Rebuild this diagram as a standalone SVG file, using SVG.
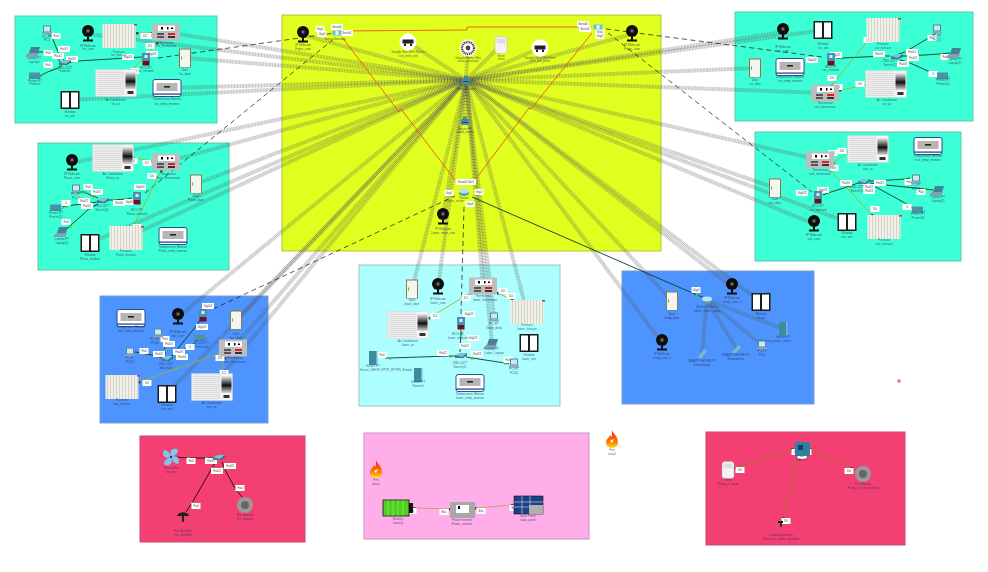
<svg xmlns="http://www.w3.org/2000/svg" width="988" height="572" viewBox="0 0 988 572">
<style>
text{font-family:"Liberation Sans",Arial,sans-serif;text-anchor:middle}
.n{font-size:3.1px;fill:#2b2b55;fill-opacity:.8}
.l{font-size:3px;fill:#444}
.z{stroke-width:1}
.t{fill:#3dffd6;stroke:#5cc9a8}
.w line{stroke:#555;stroke-opacity:.36;stroke-width:4;stroke-dasharray:1 .5}
.d{stroke:#0b3b2a;stroke-width:.9;fill:none;marker-mid:url(#g)}
.k{stroke:#111;stroke-width:.7;fill:none;stroke-dasharray:5 3.5}
.o{stroke:#f0541a;stroke-width:.9;fill:none}
.y{stroke:#9fb32a;stroke-width:.9;fill:none;marker-start:url(#m);marker-end:url(#m)}
.r{stroke:#3a0a1a;stroke-width:1;fill:none;marker-mid:url(#g)}
.b{stroke:#a8701a;stroke-width:1;fill:none;marker-start:url(#m);marker-end:url(#m)}
.a{stroke:#c8a070;stroke-width:1;fill:none;marker-start:url(#m);marker-end:url(#m)}
.sp{fill:#fff}
</style>
<defs>
<marker id="g" markerUnits="userSpaceOnUse" markerWidth="3" markerHeight="3" refX="1.5" refY="1.5"><rect width="3" height="3" fill="#3fc43f"/></marker>
<marker id="m" markerUnits="userSpaceOnUse" markerWidth="3" markerHeight="3" refX="1.5" refY="1.5"><rect width="3" height="3" fill="#444"/></marker>
<pattern id="rad" width="3" height="4" patternUnits="userSpaceOnUse"><rect width="3" height="4" fill="#f1f0e8"/><rect width="1" height="4" fill="#d4d4c8"/></pattern>
<pattern id="gr" width="4" height="2" patternUnits="userSpaceOnUse"><rect width="4" height="2" fill="#ececec"/><rect y="1" width="4" height=".6" fill="#d4d4d4"/></pattern>
<linearGradient id="dk" x1="0" y1="0" x2="0" y2="1"><stop offset="0" stop-color="#eee"/><stop offset=".55" stop-color="#111"/><stop offset="1" stop-color="#ddd"/></linearGradient>
<linearGradient id="flg" x1="0" y1="0" x2="0" y2="1"><stop offset="0" stop-color="#f11"/><stop offset=".7" stop-color="#f80"/><stop offset="1" stop-color="#fd3"/></linearGradient>
<rect id="p1" x="-4.5" y="-3" width="9" height="6" class="sp"/>
<rect id="p2" x="-6" y="-3" width="12" height="6" class="sp"/>
<g id="cam"><circle cy="-3" r="6" fill="#0c0c0c"/><circle cy="-3" r="2.4" fill="#333"/><circle cy="-3" r="1" fill="#888"/><rect x="-1" y="3" width="2" height="3" fill="#111"/><rect x="-5" y="5.5" width="10" height="2" fill="#111"/></g>
<g id="fur"><rect x="-16.5" y="-12" width="33" height="24" fill="url(#rad)"/><rect x="15" y="-12" width="3" height="1.6" fill="#c8384a"/></g>
<g id="ac"><rect x="-20.5" y="-13.5" width="41" height="27" fill="#f4f4f4" stroke="#ccc" stroke-width=".4"/><rect x="-19.5" y="-12.5" width="28" height="25" fill="url(#gr)"/><rect x="9.5" y="-11" width="10" height="17" fill="url(#dk)"/><rect x="11.5" y="8" width="6" height="3" fill="#333"/></g>
<g id="th"><rect x="-14" y="-8.5" width="28" height="17" fill="#bdbdbd"/><rect x="-8" y="-6.5" width="17" height="5.5" fill="#fff"/><rect x="-5" y="-5" width="2" height="2.5"/><rect x="1" y="-5" width="1.5" height="2.5"/><rect x="5" y="-4.5" width="2" height="1.5"/><rect x="-9" y="1" width="7" height="2" fill="#555"/><rect x="2" y="1" width="7" height="2" fill="#d22"/><rect x="-9" y="4" width="7" height="2" fill="#555"/><rect x="2" y="4" width="7" height="2" fill="#333"/></g>
<g id="door"><rect x="-6" y="-9.5" width="12" height="19" fill="#8a7458"/><rect x="-5" y="-8.5" width="10" height="17.5" fill="#f5f5ef"/><rect x="-4" y="-1.5" width="1" height="3" fill="#2cc52c"/></g>
<g id="win"><rect x="-9.5" y="-9" width="19" height="18" fill="#1c1c1c"/><rect x="-8" y="-7.5" width="7" height="15" fill="#fff"/><rect x="1" y="-7.5" width="7" height="15" fill="#fff"/></g>
<g id="temp"><rect x="-14" y="-8.5" width="28" height="17" rx="2" fill="#fff" stroke="#1d3c86" stroke-width=".9"/><rect x="-10.5" y="-5" width="21" height="8" fill="#b5b5b5"/><rect x="-3" y="-2" width="6" height="1.6" fill="#222"/><rect x="-14" y="5.5" width="28" height="1.2" fill="#1d3c86"/></g>
<g id="pc"><rect x="-4" y="-4.5" width="8" height="7" fill="#4a8ba3"/><rect x="-3" y="-3.5" width="6" height="5" fill="#cfe8f0"/><rect x="-5" y="2.5" width="10" height="2" fill="#88a9b5"/></g>
<g id="lap"><path d="M-3-5H6L4 1H-5Z" fill="#4a7f98"/><path d="M-6 1H5L3 5H-9Z" fill="#7ba3b5"/></g>
<g id="pr"><rect x="-6" y="-3.5" width="11" height="6" fill="#4f90a8"/><path d="M-6 2.5H5L7 0" stroke="#2a5a6e" fill="none" stroke-width=".5"/></g>
<g id="sw"><path d="M-5-1 0-3H7L2 1H-5Z" fill="#7fc0d0"/><path d="M-5-1V2H2V1Z" fill="#3c7f98"/><path d="M2 1V2.5L7-.5V-3Z" fill="#2f6e85"/></g>
<g id="srv"><rect x="-4" y="-7" width="7" height="14" fill="#3d8ba0"/><rect x="3" y="-7" width="1.5" height="14" fill="#72b8c8"/></g>
<g id="mcu"><rect x="-4" y="-6" width="8" height="8" fill="#4a90b0"/><rect x="-1.5" y="-4" width="3" height="3" fill="#d9eef5"/><rect x="-3.5" y="2" width="7" height="4.5" fill="#6b0f1a"/></g>
<g id="ap"><rect x="-4" y="-3" width="8" height="6" fill="#4a8fb0"/><rect x="-1.5" y="-5" width="3" height="3" fill="#4a8fb0" stroke="#1f5a75" stroke-width=".4"/><rect x="-3" y="0" width="6" height=".8" fill="#12384a"/></g>
<g id="rt"><ellipse cy="1" rx="5" ry="3" fill="#4f9db5"/><ellipse cy="-1" rx="5" ry="2.4" fill="#b8e3ec"/></g>
<g id="gw"><rect x="-4.5" y="-2.5" width="9" height="5" fill="#6ec0dc"/><rect x="-1.5" y="-2" width="3" height="4" fill="#e0f4fa"/></g>
<g id="flame"><path d="M0-10C1-6 6-4 6 2 6 6 3 8 0 8-3 8-6 6-6 2-6-1-3-2-2-5-1-3 0-3 0-5Z" fill="url(#flg)"/><path d="M-2 1 2-1 0 3Z" fill="#fff"/></g>
<g id="goog"><circle r="8.5" fill="#fff"/><rect x="-5.5" y="-2.5" width="11" height="4" fill="#222"/><rect x="-4" y="1.5" width="2" height="2.5" fill="#222"/><rect x="2" y="1.5" width="2" height="2.5" fill="#222"/></g>
<g id="qr"><circle r="8.5" fill="#fff"/><circle r="6" fill="none" stroke="#333" stroke-width="2.4" stroke-dasharray="1 .8"/><circle r="2.4" fill="#444"/></g>
<g id="bot"><rect x="-6" y="-8.5" width="12" height="17" rx="3" fill="#f3f3f3" stroke="#aaa" stroke-width=".4"/><rect x="-4.5" y="-6.5" width="9" height="5" rx="1" fill="#ddd"/></g>
</defs>

<g id="zones">
<rect class="z t" x="15" y="16" width="202" height="107"/>
<rect class="z" x="282" y="15" width="379" height="236" fill="#e0ff1f" stroke="#b5c13a"/>
<rect class="z t" x="735" y="12" width="238" height="109"/>
<rect class="z t" x="38" y="143" width="191" height="127"/>
<rect class="z t" x="755" y="132" width="206" height="129"/>
<rect class="z" x="100" y="296" width="168" height="127" fill="#4d94ff" stroke="#7a9fd0"/>
<rect class="z" x="359" y="265" width="201" height="141" fill="#adffff" stroke="#9ac5c5"/>
<rect class="z" x="622" y="271" width="192" height="133" fill="#4d94ff" stroke="#7a9fd0"/>
<rect class="z" x="140" y="436" width="165" height="106" fill="#f43f72" stroke="#c44a70"/>
<rect class="z" x="364" y="433" width="225" height="106" fill="#ffaeea" stroke="#c393b8"/>
<rect class="z" x="706" y="432" width="199" height="113" fill="#f43f72" stroke="#c44a70"/>
<circle cx="899" cy="381" r="2" fill="#e884c0"/>
</g>

<g id="connectors">
<g class="w">
<line x1="466" y1="80" x2="88" y2="34"/><line x1="466" y1="80" x2="166" y2="32"/><line x1="466" y1="80" x2="185" y2="58"/><line x1="466" y1="80" x2="167" y2="88"/><line x1="466" y1="80" x2="70" y2="100"/>
<line x1="466" y1="80" x2="783" y2="32"/><line x1="466" y1="80" x2="823" y2="30"/><line x1="466" y1="80" x2="755" y2="68"/><line x1="466" y1="80" x2="825" y2="93"/>
<line x1="466" y1="80" x2="72" y2="163"/><line x1="466" y1="80" x2="166" y2="162"/><line x1="466" y1="80" x2="196" y2="184"/><line x1="466" y1="80" x2="90" y2="243"/><line x1="466" y1="80" x2="126" y2="238"/>
<line x1="466" y1="80" x2="820" y2="160"/><line x1="466" y1="80" x2="775" y2="188"/><line x1="466" y1="80" x2="847" y2="222"/><line x1="466" y1="80" x2="814" y2="224"/>
<line x1="466" y1="80" x2="178" y2="317"/><line x1="466" y1="80" x2="236" y2="320"/><line x1="466" y1="80" x2="233" y2="348"/><line x1="466" y1="80" x2="167" y2="394"/><line x1="466" y1="80" x2="212" y2="387"/>
<line x1="466" y1="80" x2="412" y2="289"/><line x1="466" y1="80" x2="438" y2="287"/><line x1="466" y1="80" x2="483" y2="286"/><line x1="466" y1="80" x2="494" y2="317"/><line x1="466" y1="80" x2="492" y2="344"/><line x1="466" y1="80" x2="527" y2="312"/>
<line x1="466" y1="80" x2="408" y2="42"/><line x1="466" y1="80" x2="468" y2="48"/><line x1="466" y1="80" x2="501" y2="45"/><line x1="466" y1="80" x2="540" y2="48"/><line x1="466" y1="80" x2="303" y2="35"/><line x1="466" y1="80" x2="632" y2="34"/><line x1="466" y1="80" x2="443" y2="217"/><line x1="466" y1="80" x2="465" y2="122"/>
<line x1="466" y1="80" x2="672" y2="301"/><line x1="466" y1="80" x2="732" y2="287"/><line x1="466" y1="80" x2="662" y2="343"/><line x1="466" y1="80" x2="761" y2="302"/>
<line x1="707" y1="300" x2="783" y2="329"/><line x1="707" y1="300" x2="762" y2="345"/><line x1="707" y1="300" x2="702" y2="353"/><line x1="707" y1="300" x2="736" y2="348"/>
</g>
<path class="o" d="M339 31 467 30V27L592 27"/>
<path class="o" d="M342 37 399 112 401 109 455 180"/>
<path class="o" d="M592 33 531 109 529 108 475 180"/>
<path class="k" d="M158 58 335 33"/><path class="k" d="M145 193 335 38"/><path class="k" d="M606 29 822 57"/><path class="k" d="M608 33 812 192"/><path class="k" d="M213 309 455 196"/><path class="k" d="M464 207 461 314"/>
<path class="d" d="M472 197 697 295 705 298"/>
<path class="d" d="M47 33 52 37 58 52 64 60"/><path class="d" d="M38 52 44 52 58 58 60 62"/><path class="d" d="M40 76 45 73 58 68 62 65"/><path class="d" d="M70 62 78 61 142 57 146 57"/>
<path class="y" d="M137 33H152"/><path class="y" d="M157 43 132 70"/>
<path class="d" d="M936 33 932 36 905 52 899 54"/><path class="d" d="M950 53 940 54 908 56 900 56"/><path class="d" d="M938 75 930 72 908 62 900 60"/><path class="d" d="M890 56 884 56 842 58 836 58"/>
<path class="y" d="M870 38 832 85"/><path class="y" d="M840 90 866 85"/>
<path class="d" d="M80 192 84 192 93 196 98 198"/><path class="d" d="M62 207 66 206 90 203 97 202"/><path class="d" d="M66 230 70 226 90 208 98 204"/><path class="d" d="M108 200 114 200 126 199 132 198"/>
<path class="y" d="M133 158 152 161"/><path class="y" d="M161 171 134 225"/>
<path class="d" d="M823 195 828 193 850 186 858 183"/><path class="d" d="M870 181 875 181 905 179 910 178"/><path class="d" d="M870 183 876 184 925 189 933 190"/><path class="d" d="M868 184 874 186 905 203 912 208"/>
<path class="y" d="M833 163 848 152"/><path class="y" d="M830 170 872 215"/>
<path class="d" d="M162 336 163 342 165 350 165 355"/><path class="d" d="M135 352 141 353 156 356 162 358"/><path class="d" d="M172 356 175 352 197 325 200 320"/><path class="d" d="M170 357 175 354 190 346 195 343"/>
<path class="y" d="M221 353 139 382"/><path class="y" d="M225 358 220 373"/>
<path class="d" d="M385 358 390 358 450 356 458 356"/><path class="d" d="M461 330 461 334 460 348 460 352"/><path class="d" d="M466 357 472 358 505 363 509 364"/>
<path class="y" d="M470 293 429 318"/><path class="y" d="M498 293 512 300"/>
<path class="r" d="M175 457 188 458 206 458 216 458"/><path class="r" d="M215 463 212 468 192 503 186 512"/><path class="r" d="M222 462 224 468 236 490 243 498"/>
<path class="a" d="M414 508 450 509"/><path class="a" d="M475 508 512 505"/>
<path class="b" d="M792 449 735 468"/><path class="b" d="M810 449 852 468"/><path class="b" d="M798 458 783 518"/>
</g>

<g id="pills">
<use href="#p1" x="320" y="29"/><text class="l" x="320" y="30">Gig1</text><use href="#p1" x="322" y="34"/><text class="l" x="322" y="35">Gig2</text><use href="#p2" x="337" y="27"/><text class="l" x="337" y="28">Serial0</text><use href="#p2" x="347" y="33"/><text class="l" x="347" y="34">Serial1</text>
<use href="#p2" x="583" y="24"/><text class="l" x="583" y="25">Serial0</text><use href="#p2" x="585" y="29"/><text class="l" x="585" y="30">Serial1</text><use href="#p1" x="600" y="32"/><text class="l" x="600" y="33">Gig1</text><use href="#p1" x="600" y="36"/><text class="l" x="600" y="37">Gig2</text>
<rect x="456" y="179" width="20" height="6" class="sp"/><text class="l" x="466" y="183">Serial0 Ser1</text><use href="#p1" x="449" y="193"/><text class="l" x="449" y="194">Gig1</text><use href="#p1" x="479" y="192"/><text class="l" x="479" y="193">Gig2</text><use href="#p1" x="470" y="204"/><text class="l" x="470" y="205">Gig3</text>
<use href="#p1" x="56" y="36"/><text class="l" x="56" y="37">Fa0</text><use href="#p2" x="64" y="49"/><text class="l" x="64" y="50">Fa0/1</text><use href="#p1" x="48" y="53"/><text class="l" x="48" y="54">Fa0</text><use href="#p2" x="58" y="56"/><text class="l" x="58" y="57">Fa0/2</text><use href="#p1" x="48" y="65"/><text class="l" x="48" y="66">Fa0</text><use href="#p2" x="72" y="59"/><text class="l" x="72" y="60">Fa0/3</text><use href="#p2" x="128" y="57"/><text class="l" x="128" y="58">Gig0/1</text><use href="#p2" x="152" y="54"/><text class="l" x="152" y="55">Gig0/2</text><use href="#p1" x="145" y="36"/><text class="l" x="145" y="37">D0</text><use href="#p1" x="153" y="36"/><text class="l" x="153" y="37">D1</text><use href="#p1" x="150" y="46"/><text class="l" x="150" y="47">D2</text><use href="#p1" x="135" y="71"/><text class="l" x="135" y="72">D0</text>
<use href="#p1" x="868" y="40"/><text class="l" x="868" y="41">D0</text><use href="#p2" x="836" y="55"/><text class="l" x="836" y="56">Gig0/1</text><use href="#p2" x="812" y="60"/><text class="l" x="812" y="61">Gig0/2</text><use href="#p2" x="879" y="54"/><text class="l" x="879" y="55">Fa0/4</text><use href="#p2" x="912" y="52"/><text class="l" x="912" y="53">Fa0/1</text><use href="#p2" x="913" y="58"/><text class="l" x="913" y="59">Fa0/2</text><use href="#p2" x="903" y="64"/><text class="l" x="903" y="65">Fa0/3</text><use href="#p1" x="932" y="38"/><text class="l" x="932" y="39">Fa0</text><use href="#p1" x="945" y="57"/><text class="l" x="945" y="58">Fa0</text><use href="#p1" x="933" y="74"/><text class="l" x="933" y="75">0</text><use href="#p1" x="832" y="78"/><text class="l" x="832" y="79">D0</text><use href="#p1" x="838" y="87"/><text class="l" x="838" y="88">D1</text><use href="#p1" x="860" y="84"/><text class="l" x="860" y="85">D0</text>
<use href="#p1" x="88" y="187"/><text class="l" x="88" y="188">Fa0</text><use href="#p2" x="97" y="192"/><text class="l" x="97" y="193">Fa0/1</text><use href="#p2" x="84" y="201"/><text class="l" x="84" y="202">Fa0/2</text><use href="#p2" x="87" y="206"/><text class="l" x="87" y="207">Fa0/3</text><use href="#p1" x="66" y="203"/><text class="l" x="66" y="204">0</text><use href="#p1" x="66" y="222"/><text class="l" x="66" y="223">Fa0</text><use href="#p2" x="119" y="203"/><text class="l" x="119" y="204">Fa0/4</text><use href="#p2" x="130" y="202"/><text class="l" x="130" y="203">Gig0/1</text><use href="#p2" x="140" y="187"/><text class="l" x="140" y="188">Gig0/2</text><use href="#p1" x="133" y="161"/><text class="l" x="133" y="162">D0</text><use href="#p1" x="147" y="163"/><text class="l" x="147" y="164">D1</text><use href="#p1" x="152" y="176"/><text class="l" x="152" y="177">D0</text><use href="#p1" x="137" y="227"/><text class="l" x="137" y="228">D0</text>
<use href="#p1" x="833" y="153"/><text class="l" x="833" y="154">D1</text><use href="#p1" x="842" y="151"/><text class="l" x="842" y="152">D0</text><use href="#p1" x="834" y="168"/><text class="l" x="834" y="169">D0</text><use href="#p2" x="846" y="183"/><text class="l" x="846" y="184">Fa0/4</text><use href="#p2" x="802" y="193"/><text class="l" x="802" y="194">Gig0/2</text><use href="#p2" x="823" y="190"/><text class="l" x="823" y="191">Gig0/1</text><use href="#p2" x="869" y="187"/><text class="l" x="869" y="188">Fa0/2</text><use href="#p2" x="869" y="191"/><text class="l" x="869" y="192">Fa0/3</text><use href="#p2" x="880" y="183"/><text class="l" x="880" y="184">Fa0/1</text><use href="#p1" x="909" y="182"/><text class="l" x="909" y="183">Fa0</text><use href="#p1" x="921" y="192"/><text class="l" x="921" y="193">Fa0</text><use href="#p1" x="907" y="207"/><text class="l" x="907" y="208">0</text><use href="#p1" x="875" y="209"/><text class="l" x="875" y="210">D0</text>
<use href="#p2" x="208" y="306"/><text class="l" x="208" y="307">Gig0/2</text><use href="#p2" x="202" y="327"/><text class="l" x="202" y="328">Gig0/1</text><use href="#p1" x="165" y="339"/><text class="l" x="165" y="340">Fa0</text><use href="#p2" x="169" y="344"/><text class="l" x="169" y="345">Fa0/1</text><use href="#p1" x="144" y="351"/><text class="l" x="144" y="352">Fa0</text><use href="#p2" x="159" y="354"/><text class="l" x="159" y="355">Fa0/2</text><use href="#p2" x="179" y="352"/><text class="l" x="179" y="353">Fa0/3</text><use href="#p2" x="182" y="357"/><text class="l" x="182" y="358">Fa0/4</text><use href="#p1" x="190" y="347"/><text class="l" x="190" y="348">0</text><use href="#p1" x="220" y="358"/><text class="l" x="220" y="359">D0</text><use href="#p1" x="224" y="373"/><text class="l" x="224" y="374">D1</text><use href="#p1" x="147" y="383"/><text class="l" x="147" y="384">D0</text>
<use href="#p1" x="503" y="291"/><text class="l" x="503" y="292">D0</text><use href="#p1" x="511" y="296"/><text class="l" x="511" y="297">D0</text><use href="#p1" x="466" y="298"/><text class="l" x="466" y="299">D1</text><use href="#p1" x="435" y="316"/><text class="l" x="435" y="317">D0</text><use href="#p2" x="469" y="314"/><text class="l" x="469" y="315">Gig0/2</text><use href="#p2" x="473" y="338"/><text class="l" x="473" y="339">Gig0/1</text><use href="#p2" x="465" y="346"/><text class="l" x="465" y="347">Fa0/1</text><use href="#p1" x="382" y="355"/><text class="l" x="382" y="356">Fa0</text><use href="#p2" x="443" y="353"/><text class="l" x="443" y="354">Fa0/2</text><use href="#p2" x="477" y="354"/><text class="l" x="477" y="355">Fa0/3</text><use href="#p1" x="508" y="360"/><text class="l" x="508" y="361">Fa0</text>
<use href="#p1" x="696" y="290"/><text class="l" x="696" y="291">Gig0</text>
<use href="#p1" x="191" y="461"/><text class="l" x="191" y="462">Fa0</text><use href="#p2" x="211" y="461"/><text class="l" x="211" y="462">Fa0/1</text><use href="#p2" x="217" y="471"/><text class="l" x="217" y="472">Fa0/2</text><use href="#p2" x="230" y="466"/><text class="l" x="230" y="467">Fa0/3</text><use href="#p1" x="196" y="506"/><text class="l" x="196" y="507">Fa0</text><use href="#p1" x="240" y="488"/><text class="l" x="240" y="489">Fa0</text>
<use href="#p1" x="412" y="511"/><text class="l" x="412" y="512">Dn</text><use href="#p1" x="444" y="512"/><text class="l" x="444" y="513">Bus</text><use href="#p1" x="481" y="511"/><text class="l" x="481" y="512">Bus</text><use href="#p1" x="514" y="508"/><text class="l" x="514" y="509">Bus</text>
<use href="#p1" x="796" y="452"/><text class="l" x="796" y="453">D0</text><use href="#p1" x="807" y="452"/><text class="l" x="807" y="453">D1</text><use href="#p1" x="802" y="456"/><text class="l" x="802" y="457">D2</text><use href="#p1" x="740" y="470"/><text class="l" x="740" y="471">D0</text><use href="#p1" x="849" y="471"/><text class="l" x="849" y="472">D0</text><use href="#p1" x="786" y="521"/><text class="l" x="786" y="522">D0</text>
</g>

<g id="nodes">
<g id="lvs_pc"><use href="#pc" x="47" y="30"/><text class="n" x="47" y="38">PC-PT</text><text class="n" x="47" y="41">PC0</text></g>
<g id="lvs_laptop"><use href="#lap" x="34" y="52"/><text class="n" x="34" y="59">Laptop-PT</text><text class="n" x="34" y="63">Laptop0</text></g>
<g id="lvs_printer"><use href="#pr" x="35" y="76"/><text class="n" x="35" y="82">Printer-PT</text><text class="n" x="35" y="85">Printer0</text></g>
<g id="lvs_switch"><use href="#sw" x="64" y="63"/><text class="n" x="65" y="69">2960-24TT</text><text class="n" x="65" y="72">Switch0</text></g>
<g id="lvs_cam"><use href="#cam" x="88" y="34"/><text class="n" x="88" y="47">IP Webcam</text><text class="n" x="88" y="50">lvs_cam</text></g>
<g id="lvs_furnace"><use href="#fur" x="119" y="36"/><text class="n" x="119" y="53">Furnace</text><text class="n" x="119" y="56">lvs_furnace</text></g>
<g id="lvs_thermostat"><use href="#th" x="166" y="32"/><text class="n" x="166" y="44">Thermostat</text><text class="n" x="166" y="47">lvs_thermostat</text></g>
<g id="lvs_mcu"><use href="#mcu" x="146" y="59"/><text class="n" x="146" y="69">MCU-PT</text><text class="n" x="146" y="72">lvs_network</text></g>
<g id="lvs_door"><use href="#door" x="185" y="58"/><text class="n" x="185" y="71">Door</text><text class="n" x="185" y="75">lvs_door</text></g>
<g id="lvs_ac"><use href="#ac" x="116" y="83"/><text class="n" x="116" y="101">Air Conditioner</text><text class="n" x="116" y="105">lvs_ac</text></g>
<g id="lvs_window"><use href="#win" x="70" y="100"/><text class="n" x="70" y="113">Window</text><text class="n" x="70" y="117">lvs_win</text></g>
<g id="lvs_temp"><use href="#temp" x="167" y="88"/><text class="n" x="167" y="100">Temperature Monitor</text><text class="n" x="167" y="105">lvs_temp_monitor</text></g>

<g id="foyer_cam"><use href="#cam" x="303" y="35"/><text class="n" x="303" y="46">IP Webcam</text><text class="n" x="303" y="50">Foyer_cam</text></g>
<g id="gw_left"><use href="#gw" x="337" y="33"/><text class="n" x="335" y="40">Home Gateway</text></g>
<g id="gw_right"><use href="#gw" x="598" y="27"/></g>
<g id="foyer_cam2"><use href="#cam" x="632" y="34"/><text class="n" x="632" y="46">IP Webcam</text><text class="n" x="632" y="50">Foyer_cam</text></g>
<g id="google1"><use href="#goog" x="408" y="42"/><text class="n" x="408" y="53">Google Nest Wifi Router</text><text class="n" x="408" y="57">cctv_nest_wifi</text></g>
<g id="google2"><use href="#qr" x="468" y="48"/><text class="n" x="468" y="59">Google Home Mini</text><text class="n" x="468" y="62">voice_assistant</text></g>
<g id="siren"><use href="#bot" x="501" y="45"/><text class="n" x="501" y="57">Siren</text><text class="n" x="501" y="60">siren</text></g>
<g id="google3"><use href="#goog" x="540" y="48"/><text class="n" x="540" y="59">Google Nest Wifi Point</text><text class="n" x="540" y="62">cctv_wifi_point</text></g>
<g id="hub_ap"><use href="#ap" x="466" y="81"/><text class="n" x="466" y="90">Home Router</text></g>
<g id="hub_sw"><use href="#ap" x="465" y="122"/><text class="n" x="465" y="130">Server-PT</text><text class="n" x="465" y="133">cloud_server</text></g>
<g id="core_router"><use href="#rt" x="464" y="192"/><text class="n" x="464" y="199">Router</text><text class="n" x="455" y="202">Lower_router</text></g>
<g id="lower_cam"><use href="#cam" x="443" y="217"/><text class="n" x="443" y="230">IP Webcam</text><text class="n" x="443" y="234">Lower_main_cam</text></g>

<g id="tr_cam"><use href="#cam" x="783" y="32"/><text class="n" x="783" y="48">IP Webcam</text><text class="n" x="783" y="52">cor_cam</text></g>
<g id="tr_win"><use href="#win" x="823" y="30"/><text class="n" x="823" y="45">Window</text><text class="n" x="823" y="49">cor_win</text></g>
<g id="tr_fur"><use href="#fur" x="883" y="30"/><text class="n" x="883" y="45">Furnace</text><text class="n" x="883" y="49">cor_furnace</text></g>
<g id="tr_pc"><use href="#pc" x="937" y="29"/><text class="n" x="937" y="37">PC-PT</text><text class="n" x="937" y="41">PC(1)</text></g>
<g id="tr_lap"><use href="#lap" x="955" y="53"/><text class="n" x="955" y="60">Laptop-PT</text><text class="n" x="955" y="64">Laptop(1)</text></g>
<g id="tr_pr"><use href="#pr" x="943" y="76"/><text class="n" x="943" y="81">Printer-PT</text><text class="n" x="943" y="85">Printer(1)</text></g>
<g id="tr_sw"><use href="#sw" x="896" y="57"/><text class="n" x="890" y="62">2960-24TT</text><text class="n" x="890" y="66">Switch(1)</text></g>
<g id="tr_mcu"><use href="#mcu" x="831" y="59"/><text class="n" x="831" y="68">MCU-PT</text><text class="n" x="831" y="71">cor_network</text></g>
<g id="tr_door"><use href="#door" x="755" y="68"/><text class="n" x="755" y="81">Door</text><text class="n" x="755" y="85">cor_door</text></g>
<g id="tr_temp"><use href="#temp" x="790" y="67"/><text class="n" x="790" y="78">Temperature Monitor</text><text class="n" x="790" y="82">cor_temp_monitor</text></g>
<g id="tr_th"><use href="#th" x="825" y="93"/><text class="n" x="825" y="104">Thermostat</text><text class="n" x="825" y="108">cor_thermostat</text></g>
<g id="tr_ac"><use href="#ac" x="886" y="84"/><text class="n" x="887" y="101">Air Conditioner</text><text class="n" x="887" y="105">cor_ac</text></g>

<g id="ml_cam"><use href="#cam" x="72" y="163"/><text class="n" x="72" y="175">IP Webcam</text><text class="n" x="72" y="179">Piano_cam</text></g>
<g id="ml_ac"><use href="#ac" x="113" y="158"/><text class="n" x="113" y="175">Air Conditioner</text><text class="n" x="113" y="179">Piano_ac</text></g>
<g id="ml_th"><use href="#th" x="166" y="162"/><text class="n" x="168" y="175">Thermostat</text><text class="n" x="168" y="179">Piano_thermostat</text></g>
<g id="ml_door"><use href="#door" x="196" y="184"/><text class="n" x="196" y="197">Door</text><text class="n" x="196" y="201">Piano_door</text></g>
<g id="ml_pc"><use href="#pc" x="76" y="189"/><text class="n" x="76" y="195">PC-PT</text><text class="n" x="76" y="199">PC(2)</text></g>
<g id="ml_pr"><use href="#pr" x="56" y="208"/><text class="n" x="56" y="214">Printer-PT</text><text class="n" x="56" y="218">Printer(2)</text></g>
<g id="ml_lap"><use href="#lap" x="62" y="232"/><text class="n" x="62" y="240">Laptop-PT</text><text class="n" x="62" y="244">Laptop(2)</text></g>
<g id="ml_sw"><use href="#sw" x="102" y="201"/><text class="n" x="102" y="207">2960-24TT</text><text class="n" x="102" y="211">Switch(2)</text></g>
<g id="ml_mcu"><use href="#mcu" x="137" y="198"/><text class="n" x="137" y="211">MCU-PT</text><text class="n" x="137" y="215">Piano_network</text></g>
<g id="ml_win"><use href="#win" x="90" y="243"/><text class="n" x="90" y="256">Window</text><text class="n" x="90" y="260">Piano_window</text></g>
<g id="ml_fur"><use href="#fur" x="126" y="238"/><text class="n" x="126" y="252">Furnace</text><text class="n" x="126" y="256">Piano_furnace</text></g>
<g id="ml_temp"><use href="#temp" x="173" y="236"/><text class="n" x="173" y="248">Temperature Monitor</text><text class="n" x="173" y="251.500">Piano_temp_monitor</text></g>

<g id="mr_ac"><use href="#ac" x="868" y="149"/><text class="n" x="868" y="166">Air Conditioner</text><text class="n" x="868" y="170">sun_ac</text></g>
<g id="mr_temp"><use href="#temp" x="928" y="146"/><text class="n" x="928" y="157">Temperature Monitor</text><text class="n" x="928" y="161">sun_temp_monitor</text></g>
<g id="mr_th"><use href="#th" x="820" y="160"/><text class="n" x="820" y="171">Thermostat</text><text class="n" x="820" y="175">sun_thermostat</text></g>
<g id="mr_door"><use href="#door" x="775" y="188"/><text class="n" x="775" y="200">Door</text><text class="n" x="775" y="204">sun_door</text></g>
<g id="mr_cam"><use href="#cam" x="814" y="224"/><text class="n" x="814" y="236">IP Webcam</text><text class="n" x="814" y="240">sun_cam</text></g>
<g id="mr_mcu"><use href="#mcu" x="818" y="197"/><text class="n" x="818" y="207">MCU-PT</text><text class="n" x="818" y="211">sun_network</text></g>
<g id="mr_sw"><use href="#sw" x="863" y="182"/><text class="n" x="857" y="188">2960-24TT</text><text class="n" x="857" y="192">Switch(3)</text></g>
<g id="mr_pc"><use href="#pc" x="916" y="179"/><text class="n" x="916" y="186">PC-PT</text><text class="n" x="916" y="190">PC(3)</text></g>
<g id="mr_lap"><use href="#lap" x="938" y="191"/><text class="n" x="938" y="198">Laptop-PT</text><text class="n" x="938" y="202">Laptop(3)</text></g>
<g id="mr_pr"><use href="#pr" x="918" y="210"/><text class="n" x="918" y="215">Printer-PT</text><text class="n" x="918" y="219">Printer(3)</text></g>
<g id="mr_win"><use href="#win" x="847" y="222"/><text class="n" x="847" y="234">Window</text><text class="n" x="847" y="238">sun_win</text></g>
<g id="mr_fur"><use href="#fur" x="884" y="227"/><text class="n" x="884" y="241">Furnace</text><text class="n" x="884" y="245">sun_furnace</text></g>

<g id="bl_temp"><use href="#temp" x="131" y="318"/><text class="n" x="131" y="328">Temperature Monitor</text><text class="n" x="131" y="332">bar_temp_monitor</text></g>
<g id="bl_cam"><use href="#cam" x="178" y="317"/><text class="n" x="178" y="333">IP Webcam</text><text class="n" x="178" y="337">bar_cam</text></g>
<g id="bl_door"><use href="#door" x="236" y="320"/><text class="n" x="236" y="335">Door</text><text class="n" x="236" y="339">bar_door</text></g>
<g id="bl_mcu"><use href="#mcu" x="203" y="315"/></g>
<g id="bl_pc1"><use href="#pc" x="158" y="333"/><text class="n" x="155" y="340">PC-PT</text><text class="n" x="155" y="344">PC(4)</text></g>
<g id="bl_pc2"><use href="#pc" x="130" y="352"/><text class="n" x="130" y="359">PC-PT</text><text class="n" x="130" y="363">PC(5)</text></g>
<g id="bl_sw"><use href="#sw" x="166" y="359"/><text class="n" x="166" y="365">2960-24TT</text><text class="n" x="166" y="368.500">Switch(4)</text></g>
<g id="bl_pr"><use href="#pr" x="200" y="338"/><text class="n" x="202" y="344">Printer-PT</text><text class="n" x="202" y="348">Printer(4)</text></g>
<g id="bl_th"><use href="#th" x="233" y="348"/><text class="n" x="235" y="359">Thermostat</text><text class="n" x="235" y="363">bar_thermostat</text></g>
<g id="bl_fur"><use href="#fur" x="122" y="387"/><text class="n" x="122" y="401">Furnace</text><text class="n" x="122" y="405">bar_furnace</text></g>
<g id="bl_win"><use href="#win" x="167" y="394"/><text class="n" x="167" y="406">Window</text><text class="n" x="167" y="410">bar_win</text></g>
<g id="bl_ac"><use href="#ac" x="212" y="387"/><text class="n" x="212" y="404">Air Conditioner</text><text class="n" x="212" y="408">bar_ac</text></g>

<g id="cy_door"><use href="#door" x="412" y="289"/><text class="n" x="412" y="301">Door</text><text class="n" x="412" y="305">lower_door</text></g>
<g id="cy_cam"><use href="#cam" x="438" y="287"/><text class="n" x="438" y="300">IP Webcam</text><text class="n" x="438" y="304">lower_cam</text></g>
<g id="cy_th"><use href="#th" x="483" y="286"/><text class="n" x="483" y="297">Thermostat</text><text class="n" x="485" y="301">lower_thermostat</text></g>
<g id="cy_fur"><use href="#fur" x="527" y="312"/><text class="n" x="527" y="326">Furnace</text><text class="n" x="527" y="330">lower_furnace</text></g>
<g id="cy_ac"><use href="#ac" x="408" y="325"/><text class="n" x="408" y="342">Air Conditioner</text><text class="n" x="408" y="346">lower_ac</text></g>
<g id="cy_mcu"><use href="#mcu" x="461" y="323"/><text class="n" x="458" y="335">MCU-PT</text><text class="n" x="458" y="339">lower_network</text></g>
<g id="cy_pc"><use href="#pc" x="494" y="317"/><text class="n" x="494" y="325">PC-PT</text><text class="n" x="494" y="329">Temp_desk</text></g>
<g id="cy_lap"><use href="#lap" x="492" y="344"/><text class="n" x="492" y="350">Laptop-PT</text><text class="n" x="494" y="354">Lower_Laptop</text></g>
<g id="cy_srv1"><use href="#srv" x="373" y="358"/><text class="n" x="373" y="367">Server-PT</text><text class="n" x="386" y="371">Server_DHCP_HTTP_HTTPS_Emails</text></g>
<g id="cy_srv2"><use href="#srv" x="418" y="375"/><text class="n" x="418" y="383">Server-PT</text><text class="n" x="418" y="387">Server0</text></g>
<g id="cy_sw"><use href="#sw" x="460" y="356"/><text class="n" x="460" y="364">2960-24TT</text><text class="n" x="460" y="368">Switch(5)</text></g>
<g id="cy_pc2"><use href="#pc" x="514" y="363"/><text class="n" x="514" y="370">PC-PT</text><text class="n" x="514" y="374">PC(6)</text></g>
<g id="cy_win"><use href="#win" x="529" y="343"/><text class="n" x="529" y="356">Window</text><text class="n" x="529" y="360">lower_win</text></g>
<g id="cy_temp"><use href="#temp" x="470" y="383"/><text class="n" x="470" y="395">Temperature Monitor</text><text class="n" x="470" y="399">lower_temp_monitor</text></g>

<g id="br_door"><use href="#door" x="672" y="301"/><text class="n" x="672" y="315">Door</text><text class="n" x="672" y="319">study_door</text></g>
<g id="br_rt"><use href="#rt" x="707" y="300"/><text class="n" x="707" y="308">Wireless Router</text><text class="n" x="707" y="311.500">smart_router_study</text></g>
<g id="br_cam"><use href="#cam" x="732" y="287"/><text class="n" x="732" y="299">IP Webcam</text><text class="n" x="732" y="303">study_cam_2</text></g>
<g id="br_win"><use href="#win" x="761" y="302"/><text class="n" x="761" y="315">Window</text><text class="n" x="761" y="319">study</text></g>
<g id="br_srv"><use href="#srv" x="783" y="329"/><text class="n" x="783" y="338">Server-PT</text><text class="n" x="775" y="342">Wireless_printer_server</text></g>
<g id="br_pc"><use href="#pc" x="762" y="345"/><text class="n" x="762" y="352">PC-PT</text><text class="n" x="762" y="356">PC0</text></g>
<g id="br_ph1"><path d="M698 357 704 349 707 351 701 359Z" fill="#7fb8c4"/><text class="n" x="702" y="362">SMART PHONE-PT</text><text class="n" x="702" y="366">Smartphone</text></g>
<g id="br_ph2"><path d="M732 352 738 345 741 347 735 354Z" fill="#7fb8c4"/><text class="n" x="736" y="356">SMART PHONE-PT</text><text class="n" x="736" y="360">Smartphone</text></g>
<g id="br_cam2"><use href="#cam" x="662" y="343"/><text class="n" x="662" y="355">IP Webcam</text><text class="n" x="662" y="359">study_cam_1</text></g>

<g id="fan"><g transform="translate(171 457)"><path d="M0 0C-3-8 4-10 7-7 7-3 3-1 0 0ZM0 0C8-3 9 4 7 7 3 7 1 3 0 0ZM0 0C3 8-4 10-7 7-7 3-3 1 0 0ZM0 0C-8 3-9-4-7-7-3-7-1-3 0 0Z" fill="#7fc8e8"/><circle r="1.2" fill="#1030c0"/></g><text class="n" x="171" y="469">Smart Fan</text><text class="n" x="171" y="473">fire_fan</text></g>
<g id="fire_sw"><use href="#sw" x="218" y="458"/></g>
<g id="speaker"><path d="M177 516C178 511 188 511 189 516ZM182 516H184V522H182Z" fill="#222"/><text class="n" x="183" y="532">Fire Sprinkler</text><text class="n" x="183" y="536">fire_sprinkler</text></g>
<g id="firemon"><circle cx="245" cy="505" r="8" fill="#9a9a9a"/><circle cx="245" cy="505" r="4" fill="#666"/><text class="n" x="245" y="516">Fire Monitor</text><text class="n" x="245" y="520">fire_monitor</text></g>

<g id="fire1"><use href="#flame" x="376" y="470"/><text class="n" x="376" y="481">Fire</text><text class="n" x="376" y="485">area1</text></g>
<g id="fire2"><use href="#flame" x="612" y="440"/><text class="n" x="612" y="451">Fire</text><text class="n" x="612" y="455">area2</text></g>
<g id="battery"><rect x="383" y="500" width="26" height="16" fill="#4fd020" stroke="#111" stroke-width=".8"/><path d="M388 500V516M393 500V516M398 500V516M403 500V516" stroke="#a0ee80" stroke-width=".6"/><rect x="409" y="503" width="4" height="10" fill="#111"/><text class="n" x="398" y="520">Battery</text><text class="n" x="398" y="524">battery</text></g>
<g id="inverter"><rect x="450" y="502" width="25" height="16" fill="#a8a8a8"/><rect x="456" y="505" width="13" height="8" fill="#fff"/><rect x="458" y="506" width="2" height="3"/><text class="n" x="462" y="521">Power Inverter</text><text class="n" x="462" y="525">Power_inverter</text></g>
<g id="solar"><rect x="514" y="496" width="29" height="18" fill="#1d3f86" stroke="#111" stroke-width=".6"/><path d="M514 502H543M514 507H543M522 496V514M530 496V514" stroke="#bcd" stroke-width=".7"/><rect x="529" y="505" width="14" height="9" fill="#b0b0b0"/><text class="n" x="528" y="517">Solar Panel</text><text class="n" x="528" y="521">solar_panel</text></g>

<g id="board"><rect x="795" y="442" width="15" height="14" fill="#2f7f9f"/><rect x="798" y="445" width="5" height="5" fill="#18405a"/><text class="n" x="802" y="460.500">SBC-PT</text></g>
<g id="pw_siren"><use href="#bot" x="728" y="470"/><text class="n" x="728" y="481">Siren</text><text class="n" x="728" y="485">Pantry_sr_siren</text></g>
<g id="pw_mon"><circle cx="863" cy="474" r="8" fill="#9a9a9a"/><circle cx="863" cy="474" r="4" fill="#666"/><text class="n" x="863" y="485">Fire Monitor</text><text class="n" x="863" y="489">Pantry_sr_fire_monitor</text></g>
<g id="pw_cool"><rect x="778" y="521" width="5" height="2" fill="#111"/><rect x="780" y="523" width="2" height="4" fill="#333"/><text class="n" x="781" y="536">Cooling Sprinkler</text><text class="n" x="781" y="540">Pantry_sr_water_sprinkler</text></g>
</g>
</svg>
